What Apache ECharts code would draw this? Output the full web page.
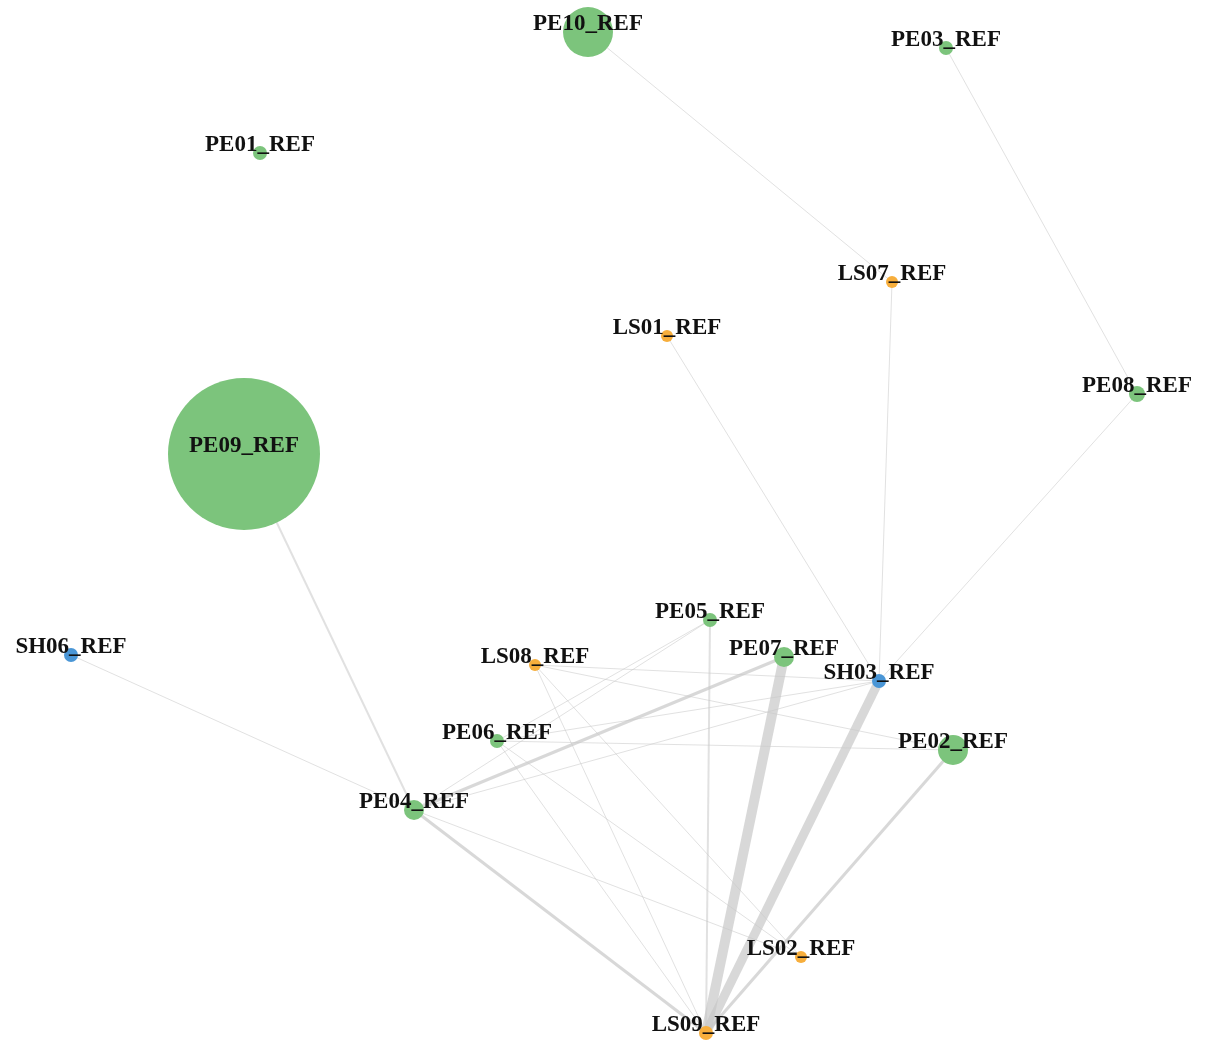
<!DOCTYPE html>
<html>
<head>
<meta charset="utf-8">
<script src="https://cdn.jsdelivr.net/npm/echarts@6/dist/echarts.min.js"></script>
<style>
html,body{margin:0;padding:0;background:#fff;}
#chart{width:1205px;height:1040px;}
</style>
</head>
<body>
<div id="chart"></div>
<script>
// Node data
const nodeNames = ['PE10_REF','PE03_REF','PE01_REF','LS07_REF','LS01_REF','PE08_REF','PE09_REF','SH06_REF','PE05_REF','LS08_REF','PE07_REF','SH03_REF','PE06_REF','PE02_REF','PE04_REF','LS02_REF','LS09_REF'];
const nodeGroup = ['PE','PE','PE','LS','LS','PE','PE','SH','PE','LS','PE','SH','PE','PE','PE','LS','LS'];
const nodeX = [588, 946, 260, 892, 667, 1137, 244, 71, 710, 535, 784, 879, 497, 953, 414, 801, 706];
const nodeY = [32, 48, 153, 282, 336, 394, 454, 655, 620, 665, 657, 681, 741, 750, 810, 957, 1033];
const nodeValue = [50, 14, 14, 12, 12, 16, 152, 14, 14, 12, 20, 14, 14, 30, 20, 12, 14];

// Link data
const linkSource = ['PE10_REF','PE03_REF','LS07_REF','LS01_REF','PE08_REF','PE09_REF','SH06_REF','PE07_REF','SH03_REF','PE02_REF','PE04_REF','PE04_REF','PE05_REF','PE04_REF','PE04_REF','PE04_REF','PE06_REF','PE06_REF','PE06_REF','PE06_REF','LS08_REF','LS08_REF','LS08_REF','LS08_REF','PE06_REF'];
const linkTarget = ['LS07_REF','PE08_REF','SH03_REF','SH03_REF','SH03_REF','PE04_REF','PE04_REF','LS09_REF','LS09_REF','LS09_REF','LS09_REF','PE07_REF','LS09_REF','SH03_REF','PE05_REF','LS02_REF','PE02_REF','SH03_REF','LS09_REF','LS02_REF','SH03_REF','PE02_REF','LS09_REF','LS02_REF','PE05_REF'];
const linkValue = [1, 1, 1, 1, 1, 2, 1, 10, 9, 3, 3, 3, 2, 1, 1, 1, 1, 1, 1, 1, 1, 1, 1, 1, 1];

const groupColor = {PE:'#7cc47c', LS:'#f7ae3c', SH:'#4a96d6'};

const nodes = nodeNames.map((n, i) => ({
  name: n,
  value: [nodeX[i], nodeY[i]],
  symbolSize: nodeValue[i],
  itemStyle: {color: groupColor[nodeGroup[i]]}
}));
const links = linkSource.map((s, i) => ({
  source: s, target: linkTarget[i],
  lineStyle: {width: linkValue[i], opacity: linkValue[i] > 2 ? 0.7 : 0.55}
}));

const chart = echarts.init(document.getElementById('chart'));
chart.setOption({
  backgroundColor: '#fff',
  animation: false,
  grid: {left: 0, right: 0, top: 0, bottom: 0},
  xAxis: {type: 'value', min: 0, max: 1205, show: false},
  yAxis: {type: 'value', min: 0, max: 1040, inverse: true, show: false},
  series: [{
    type: 'graph',
    coordinateSystem: 'cartesian2d',
    data: nodes,
    links: links,
    symbol: 'circle',
    label: {
      show: true,
      position: 'inside',
      offset: [0, -8],
      color: '#111',
      fontFamily: 'Liberation Serif',
      fontWeight: 'bold',
      fontSize: 23
    },
    lineStyle: {color: '#c8c8c8', curveness: 0},
    emphasis: {disabled: true}
  }]
});
</script>
</body>
</html>
